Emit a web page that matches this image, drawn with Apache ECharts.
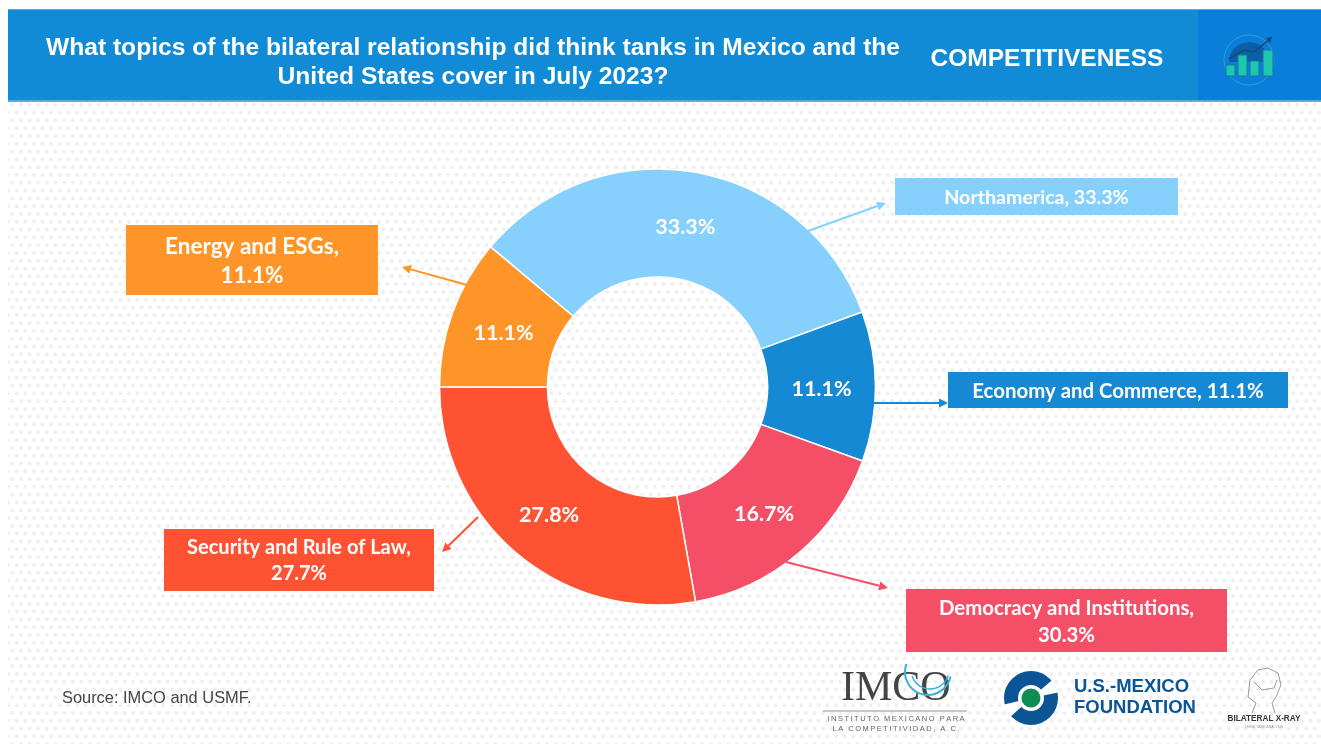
<!DOCTYPE html>
<html><head><meta charset="utf-8">
<script src="https://cdn.jsdelivr.net/npm/echarts@6/dist/echarts.min.js"></script>
<style>
html,body{margin:0;padding:0;background:#fff;overflow:hidden}
#dots{position:absolute;left:8px;top:101px;width:1313px;height:643px;
background-image:radial-gradient(circle,#efeff1 1.7px,rgba(255,255,255,0) 2.3px),radial-gradient(circle,#efeff1 1.7px,rgba(255,255,255,0) 2.3px);
background-size:8.63px 15.6px;background-position:0 -4px,4.3px 3.8px}
#c{position:absolute;left:0;top:0;width:1321px;height:744px}
</style></head><body><div id="dots"></div><div id="c"></div>
<script>
const categories=['Northamerica','Economy and Commerce','Democracy and Institutions','Security and Rule of Law','Energy and ESGs'];
const values=[33.3,11.1,16.7,27.8,11.1];
const calloutValues=[33.3,11.1,30.3,27.7,11.1];
const colors=['#85d0fd','#1689d4','#f54f68','#ff5233','#ff9528'];
const titleLines=['What topics of the bilateral relationship did think tanks in Mexico and the','United States cover in July 2023?'];
const sectionName='COMPETITIVENESS';
const sourceText='Source: IMCO and USMF.';
const F='Lato, "Open Sans", sans-serif', A='"Liberation Sans", Arial, sans-serif';
const labelNudges=[[-1,5],[-3,2],[-1,-1],[-1,0],[3,3]];
const boxes=[[895,178,283,37,1,19.6,26],[948,372,340,36,1,20.4,26],[906,589,321,63,2,20.4,27],[164,529,270,62,2,20,26],[126,225,252,70,2,22.5,29]];
const arrows=[[808,231,886,203],[873,403,948,403],[786,562,888,588],[478,517,442,552],[467,285,402,267]];
const spaced=s=>s.split('').join('\u2009');
const g=[];
g.push({type:'rect',shape:{x:8,y:9,width:1313,height:93},style:{fill:'#52aeea'},silent:true});
g.push({type:'rect',shape:{x:8,y:10,width:1313,height:90},style:{fill:'#118bd6'}});
g.push({type:'rect',shape:{x:1198,y:10,width:123,height:90},style:{fill:'#0a7fd9'}});
titleLines.forEach((t,i)=>g.push({type:'text',style:{x:473,y:48+i*29,text:t,fill:'#fff',font:'bold 24.6px '+A,textAlign:'center',textVerticalAlign:'middle'}}));
g.push({type:'text',style:{x:1047,y:59,text:sectionName,fill:'#fff',font:'bold 24.5px '+A,textAlign:'center',textVerticalAlign:'middle'}});
// header icon
g.push({type:'circle',shape:{cx:1249,cy:60,r:25},style:{fill:'none',stroke:'#3c98e0',lineWidth:1}});
g.push({type:'sector',shape:{cx:1249,cy:62,r:20,r0:0,startAngle:Math.PI,endAngle:0,clockwise:true},style:{fill:'#0b5fa8'}});
[[1226,65,9,11],[1238,55,9,21],[1250,61,9,15],[1263,50,10,26]].forEach(r=>g.push({type:'rect',shape:{x:r[0],y:r[1],width:r[2],height:r[3]},style:{fill:'#1cc7ae',stroke:'#1475a8',lineWidth:1}}));
g.push({type:'polyline',shape:{points:[[1229,59],[1244,50],[1254,52],[1270,39]]},style:{fill:'none',stroke:'#17486f',lineWidth:1.5}});
g.push({type:'polygon',shape:{points:[[1266,38],[1272,37],[1270,43]]},style:{fill:'#17486f'}});
// callouts
categories.forEach((c,i)=>{
 const b=boxes[i],a=arrows[i];
 const txt=b[4]===2?c+',\n'+calloutValues[i]+'%':c+', '+calloutValues[i]+'%';
 g.push({type:'rect',shape:{x:b[0],y:b[1],width:b[2],height:b[3]},style:{fill:colors[i]}});
 g.push({type:'text',style:{x:b[0]+b[2]/2,y:b[1]+b[3]/2+1,text:txt,fill:'#fff',font:'bold '+b[5]+'px '+F,lineHeight:b[6],textAlign:'center',textVerticalAlign:'middle'}});
 const ang=Math.atan2(a[3]-a[1],a[2]-a[0]),h=9,w=4.5;
 const bx=a[2]-h*Math.cos(ang),by=a[3]-h*Math.sin(ang);
 g.push({type:'line',z:5,shape:{x1:a[0],y1:a[1],x2:bx,y2:by},style:{stroke:colors[i],lineWidth:2}});
 g.push({type:'polygon',z:5,shape:{points:[[a[2],a[3]],[bx-w*Math.sin(ang),by+w*Math.cos(ang)],[bx+w*Math.sin(ang),by-w*Math.cos(ang)]]},style:{fill:colors[i]}});
});
g.push({type:'text',style:{x:62,y:698,text:sourceText,fill:'#444',font:'16.4px '+A,textVerticalAlign:'middle'}});
// IMCO logo
g.push({type:'text',style:{x:841,y:689,text:'IMCO',fill:'#444',font:'42px "Liberation Serif", serif',textVerticalAlign:'middle'}});
g.push({type:'arc',shape:{cx:928,cy:672,r:23,startAngle:0.2,endAngle:3.5},style:{fill:'none',stroke:'#35b3d6',lineWidth:2}});
g.push({type:'arc',shape:{cx:930,cy:670,r:19,startAngle:0.3,endAngle:2.8},style:{fill:'none',stroke:'#35b3d6',lineWidth:1.5}});
g.push({type:'line',shape:{x1:823,y1:711,x2:967,y2:711},style:{stroke:'#b5b5b5',lineWidth:1.5}});
g.push({type:'text',style:{x:896,y:719,text:spaced('INSTITUTO MEXICANO PARA'),fill:'#666',font:'7.5px '+A,textAlign:'center',textVerticalAlign:'middle'}});
g.push({type:'text',style:{x:896,y:729,text:spaced('LA COMPETITIVIDAD, A.C.'),fill:'#666',font:'7.5px '+A,textAlign:'center',textVerticalAlign:'middle'}});
// USMF logo
g.push({type:'circle',shape:{cx:1031,cy:698,r:20},style:{fill:'none',stroke:'#0b5596',lineWidth:14}});
g.push({type:'arc',shape:{cx:1031,cy:698,r:20,startAngle:-0.7,endAngle:-0.2},style:{fill:'none',stroke:'#fff',lineWidth:15}});
g.push({type:'arc',shape:{cx:1031,cy:698,r:20,startAngle:2.4,endAngle:2.9},style:{fill:'none',stroke:'#fff',lineWidth:15}});
g.push({type:'circle',shape:{cx:1031,cy:698,r:9.5},style:{fill:'#0d8c55'}});
g.push({type:'text',style:{x:1074,y:687,text:'U.S.-MEXICO',fill:'#0b5596',font:'bold 18.5px '+A,textVerticalAlign:'middle'}});
g.push({type:'text',style:{x:1074,y:708,text:'FOUNDATION',fill:'#0b5596',font:'bold 18.5px '+A,textVerticalAlign:'middle'}});
// x-ray logo
g.push({type:'polyline',shape:{points:[[1252,713],[1256,703],[1248,697],[1250,680],[1258,670],[1268,668],[1278,673],[1281,685],[1276,697],[1272,703],[1275,713]]},style:{fill:'none',stroke:'#999',lineWidth:1}});
g.push({type:'polyline',shape:{points:[[1254,682],[1262,690],[1274,688],[1277,680]]},style:{fill:'none',stroke:'#999',lineWidth:1}});
g.push({type:'text',style:{x:1264,y:719,text:'BILATERAL X-RAY',fill:'#333',font:'bold 8.2px '+A,textAlign:'center',textVerticalAlign:'middle'}});
g.push({type:'text',style:{x:1264,y:727,text:'THINK TANK ANALYSIS',fill:'#999',font:'3.5px '+A,textAlign:'center',textVerticalAlign:'middle'}});

const chart=echarts.init(document.getElementById('c'),null,{renderer:'canvas'});
chart.setOption({animation:false,backgroundColor:'transparent',graphic:{elements:g},
 series:[{type:'pie',center:[657.5,387],radius:[110,218],startAngle:140,clockwise:true,silent:true,
  color:colors,itemStyle:{borderColor:'#fff',borderWidth:1.5},
  label:{position:'inside',formatter:p=>p.value.toFixed(1)+'%',color:'#fff',fontFamily:F,fontWeight:'bold',fontSize:21.5},
  labelLine:{show:false},
  data:categories.map((n,i)=>({name:n,value:values[i],label:{offset:labelNudges[i]}}))}]});
</script></body></html>
